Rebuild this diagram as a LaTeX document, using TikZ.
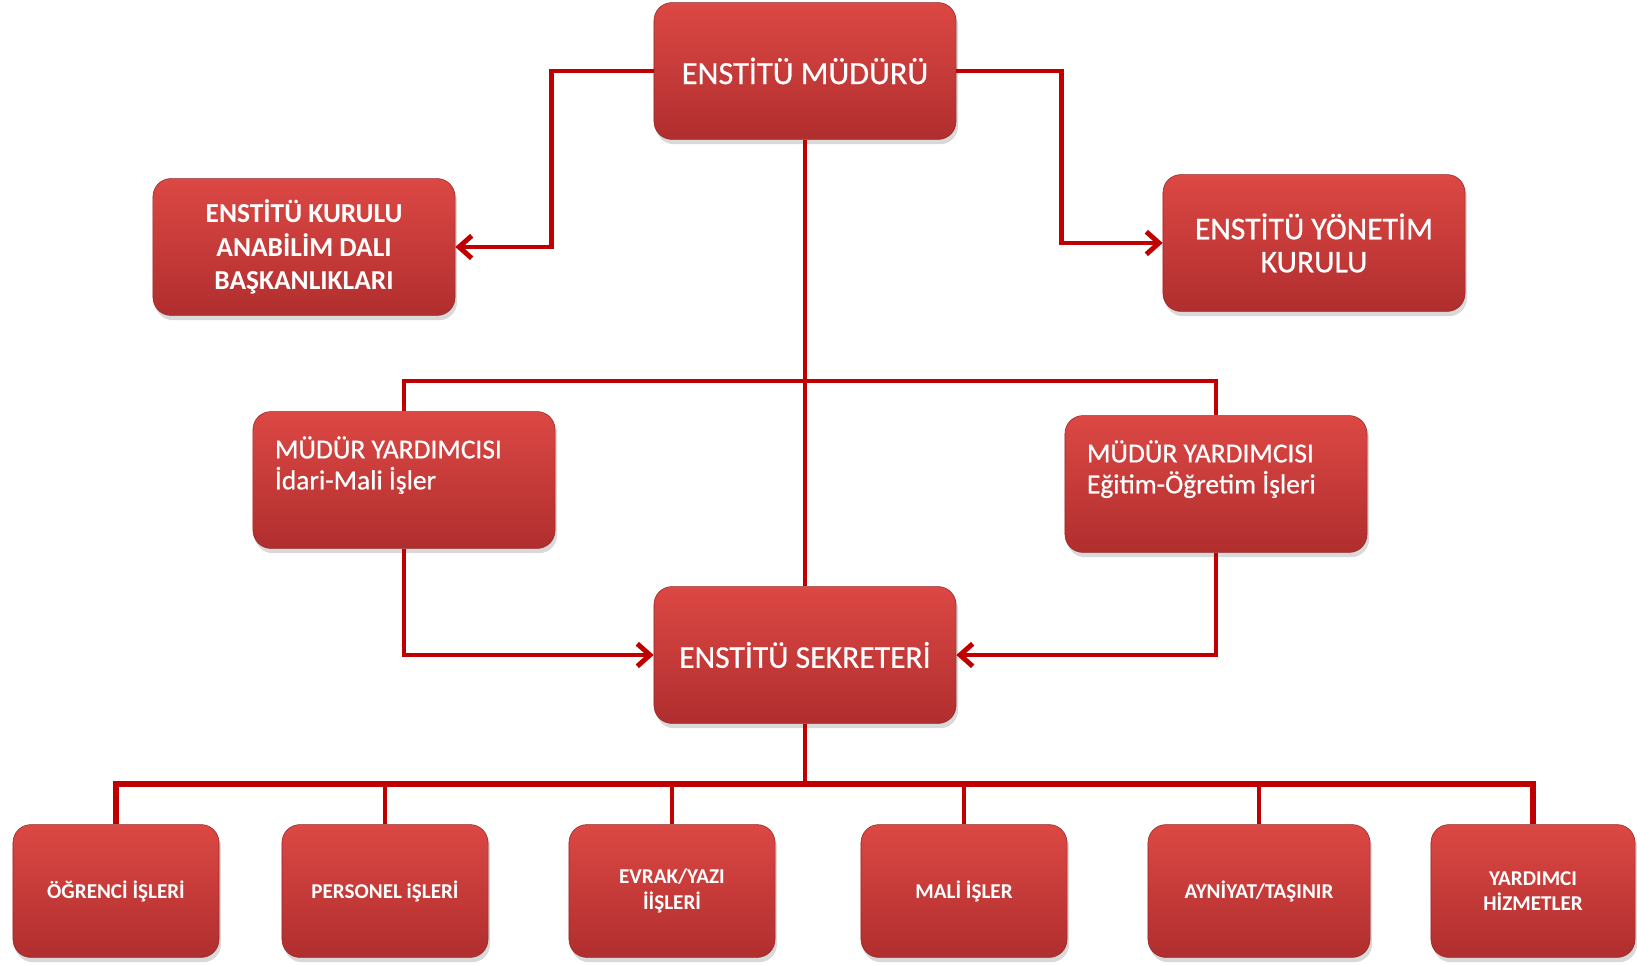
\documentclass[tikz,border=0pt]{standalone}
\usepackage{fontspec}
\setmainfont{Carlito}
\newfontfamily\boxfont{Carlito}[FakeBold=0.6]
\usetikzlibrary{arrows.meta,shadows}
\definecolor{boxtop}{RGB}{220,72,68}
\definecolor{boxbot}{RGB}{176,46,46}
\definecolor{linkred}{RGB}{192,0,0}

\begin{document}
\begin{tikzpicture}[x=0.025cm, y=-0.025cm,
	box/.style={rounded corners=0.45cm, top color=boxtop, bottom color=boxbot, draw=boxbot!85!black, line width=0.4pt, text=white, align=center, inner sep=0pt, drop shadow={opacity=0.3, shadow xshift=0.05cm, shadow yshift=-0.12cm}},
	bigbox/.style={box, minimum width=7.55cm, minimum height=3.42cm, font=\boxfont\fontsize{22.5}{23.5}\selectfont},
	smallbox/.style={box, minimum height=3.32cm, font=\bfseries\fontsize{15}{18}\selectfont},
	link/.style={draw=linkred, line width=3.5pt},
	arr/.style={link, -{Straight Barb[length=9pt, width=16pt]}}]
	\useasboundingbox (0,0) rectangle (1637,965);

	\node[bigbox, font=\boxfont\fontsize{23}{24}\selectfont] (mudur) at (805,71) {ENSTİTÜ MÜDÜRÜ};
	\node[bigbox, font=\bfseries\fontsize{19.5}{24}\selectfont] (kurul) at (304,247) {ENSTİTÜ KURULU\\ANABİLİM DALI\\BAŞKANLIKLARI};
	\node[bigbox] (yonetim) at (1314,243) {ENSTİTÜ YÖNETİM\\KURULU};
	\node[bigbox, inner xsep=0.55cm, inner ysep=0.62cm, font=\boxfont\fontsize{19.5}{22}\selectfont] (yrd1) at (404,480)
		{\parbox[t][2.18cm][t]{6.45cm}{MÜDÜR YARDIMCISI\\İdari-Mali İşler}};
	\node[bigbox, inner xsep=0.55cm, inner ysep=0.62cm, font=\boxfont\fontsize{19.5}{22}\selectfont] (yrd2) at (1216,484)
		{\parbox[t][2.18cm][t]{6.45cm}{MÜDÜR YARDIMCISI\\Eğitim-Öğretim İşleri}};
	\node[bigbox] (sekreter) at (805,655) {ENSTİTÜ SEKRETERİ};

	\foreach \nm/\x/\w/\txt in {ogrenci/116/5.15/{ÖĞRENCİ İŞLERİ}, personel/385/5.15/{PERSONEL iŞLERİ}, evrak/672/5.15/{EVRAK/YAZI\\İİŞLERİ},
		mali/964/5.15/{MALİ İŞLER}, ayniyat/1259/5.55/{AYNİYAT/TAŞINIR}, hizmet/1533/5.1/{YARDIMCI\\HİZMETLER}}
	\node[smallbox, minimum width=\w cm] (\nm) at (\x,891) {\txt};

	\draw[arr] (mudur.west) -- ++(-102,0) |- (kurul.east);
	\draw[arr] (mudur.east) -- ++(105,0) |- (yonetim.west);
	\draw[link] (mudur.south) -- (sekreter.north);

	\coordinate (yrdbar) at (805,381);
	\draw[link] (yrd1.north) |- (yrdbar) -| (yrd2.north);
	\draw[arr] (yrd1.south) |- (sekreter.west);
	\draw[arr] (yrd2.south) |- (sekreter.east);

	\coordinate (bus) at (805,784);
	\draw[link] (sekreter.south) -- (bus);
	\draw[link, line width=4.5pt] (ogrenci.north) |- (bus) -| (hizmet.north);
	\foreach \nm in {personel,evrak,mali,ayniyat}
	\draw[link] (\nm.north) -- (\nm.north |- bus);
\end{tikzpicture}
\end{document}
